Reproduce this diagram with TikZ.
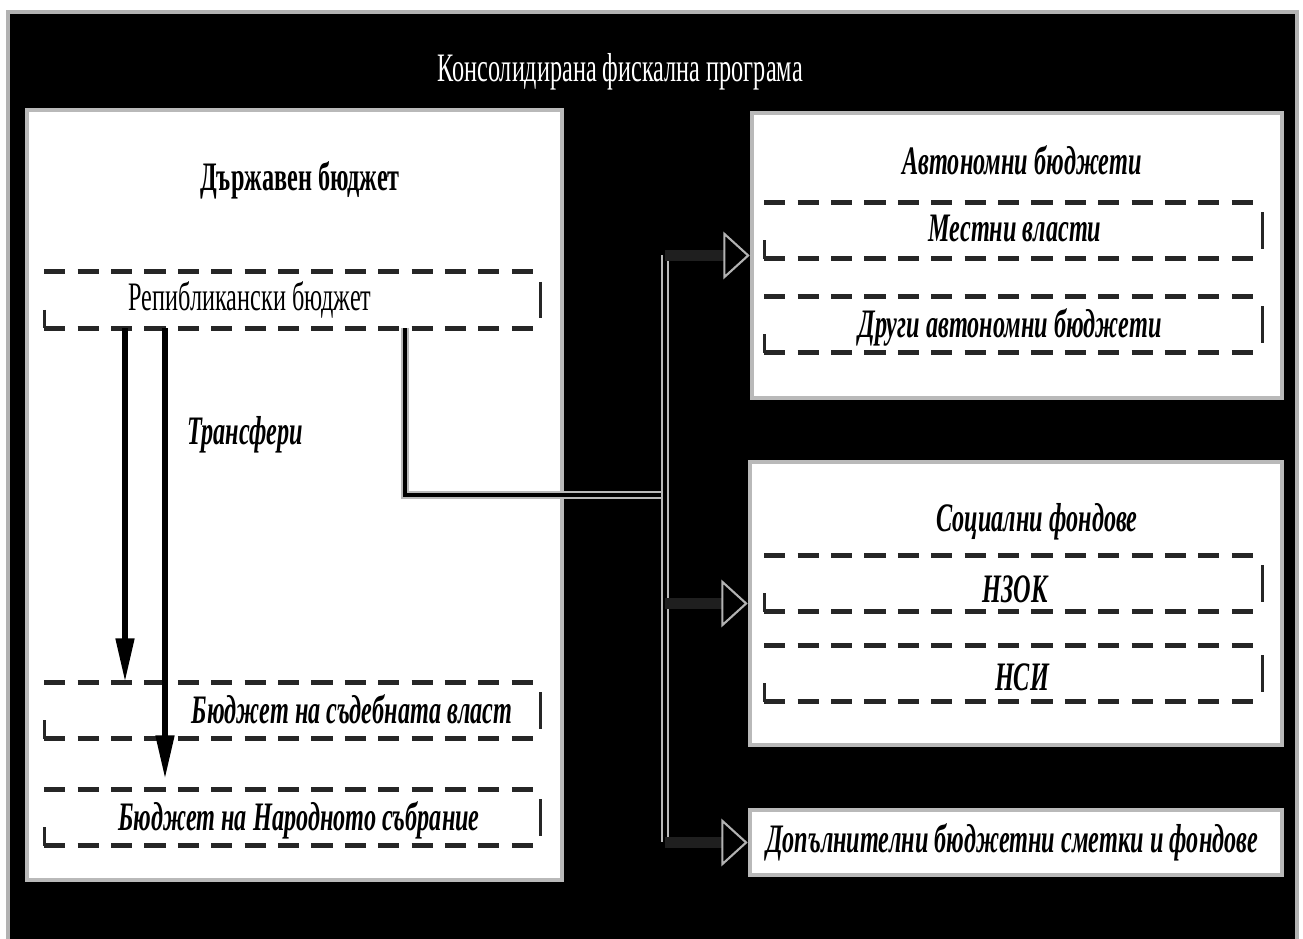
\documentclass[tikz,border=0pt]{standalone}
\usepackage{fontspec}
\setmainfont{Liberation Serif}[FakeStretch=0.6]
\usetikzlibrary{arrows.meta}

\tikzset{
  bigbox/.style={draw=gray!55, line width=1.3pt, fill=white, inner sep=0pt},
  dbox/.style={inner sep=0pt, minimum width=4.95cm, minimum height=0.55cm},
  dashline/.style={draw=black!85, line width=1.5pt, dash pattern=on 6pt off 3.5pt},
  sideline/.style={draw=black!85, line width=0.9pt},
  lbl/.style={font=\fontsize{11.5}{13}\selectfont\bfseries\itshape},
  link/.style={draw=black, line width=1.4pt, preaction={draw=gray!55, line width=2.2pt}},
  transfer/.style={draw=black, line width=1.7pt, -{Triangle[length=12.5pt,width=5pt]}},
  branch/.style={draw=black!88, line width=3.4pt, -{Triangle[length=7.5pt,width=13.5pt,color=gray!60,fill=black,line width=0.6pt]}}
}

\begin{document}
\begin{tikzpicture}
    \useasboundingbox (0,0) rectangle (13.03,9.39);
    % fond
    \fill[white] (0,0) rectangle (13.03,9.39);
    \draw[gray!60, line width=1pt, fill=black] (0.08,-0.1) rectangle (12.97,9.27);
    \node[text=white, font=\fontsize{11.5}{13}\selectfont] (titre) at (6.2,8.67) {Консолидирана фискална програма};

    % Държавен бюджет
    \node[bigbox, minimum width=5.35cm, minimum height=7.7cm] (db) at (2.945,4.44) {};
    \node[font=\fontsize{11.5}{13}\selectfont\bfseries] (dbT) at (3.0,7.59) {Държавен бюджет};
    \node[dbox] (rep) at (2.925,6.39) {};
    \node[dbox] (sud) at (2.925,2.285) {};
    \node[dbox] (nar) at (2.925,1.215) {};
    \node[font=\fontsize{11.5}{13}\selectfont] (repT) at (2.5,6.39) {Репибликански бюджет};
    \node[lbl] (sudT) at (3.52,2.30) {Бюджет на съдебната власт};
    \node[lbl] (narT) at (2.99,1.19) {Бюджет на Народното събрание};
    \node[lbl] (trT) at (2.45,5.04) {Трансфери};

    % Автономни бюджети
    \node[bigbox, minimum width=5.3cm, minimum height=2.85cm] (avt) at (10.17,6.835) {};
    \node[lbl] (avtT) at (10.22,7.79) {Автономни бюджети};
    \node[dbox, minimum width=4.97cm] (mest) at (10.135,7.085) {};
    \node[dbox, minimum width=4.97cm] (drugi) at (10.135,6.145) {};
    \node[lbl] (mestT) at (10.15,7.10) {Местни власти};
    \node[lbl] (drugiT) at (10.10,6.12) {Други автономни бюджети};

    % Социални фондове
    \node[bigbox, minimum width=5.32cm, minimum height=2.83cm] (soc) at (10.16,3.355) {};
    \node[lbl] (socT) at (10.37,4.17) {Социални фондове};
    \node[dbox, minimum width=4.97cm] (nzok) at (10.135,3.555) {};
    \node[dbox, minimum width=4.97cm] (nsi) at (10.135,2.655) {};
    \node[lbl] (nzokT) at (10.15,3.50) {НЗОК};
    \node[lbl] (nsiT) at (10.22,2.62) {НСИ};

    \node[bigbox, minimum width=5.32cm, minimum height=0.65cm] (dop) at (10.16,0.965) {};
    \node[lbl] (dopT) at (10.12,0.97) {Допълнителни бюджетни сметки и фондове};

    % cadres en tirets
    \foreach \b in {rep,sud,nar,mest,drugi,nzok,nsi}{
        \draw[dashline] (\b.north west) -- (\b.north east);
        \draw[dashline] (\b.south west) -- (\b.south east);
        \draw[sideline] ([yshift=-1mm]\b.west) -- (\b.south west);
        \draw[sideline] ([yshift=-1mm]\b.north east) -- ([yshift=1mm]\b.south east);
    }

    % трансфери
    \coordinate (a1) at (1.25,0);
    \coordinate (a2) at (1.65,0);
    \draw[transfer] (rep.south -| a1) -- (sud.north -| a1);
    \draw[transfer, shorten >=0.1cm] (rep.south -| a2) -- (nar.north -| a2);

    % liaisons
    \coordinate (c1) at (4.05,0);
    \coordinate (hub) at (6.65,4.44);
    \draw[link] (rep.south -| c1) |- (hub);
    \draw[link] (hub |- avt.west) -- (hub |- dop.west);
    \foreach \b in {avt,soc,dop}
        \draw[branch] (hub |- \b.west) -- (\b.west);
\end{tikzpicture}
\end{document}
